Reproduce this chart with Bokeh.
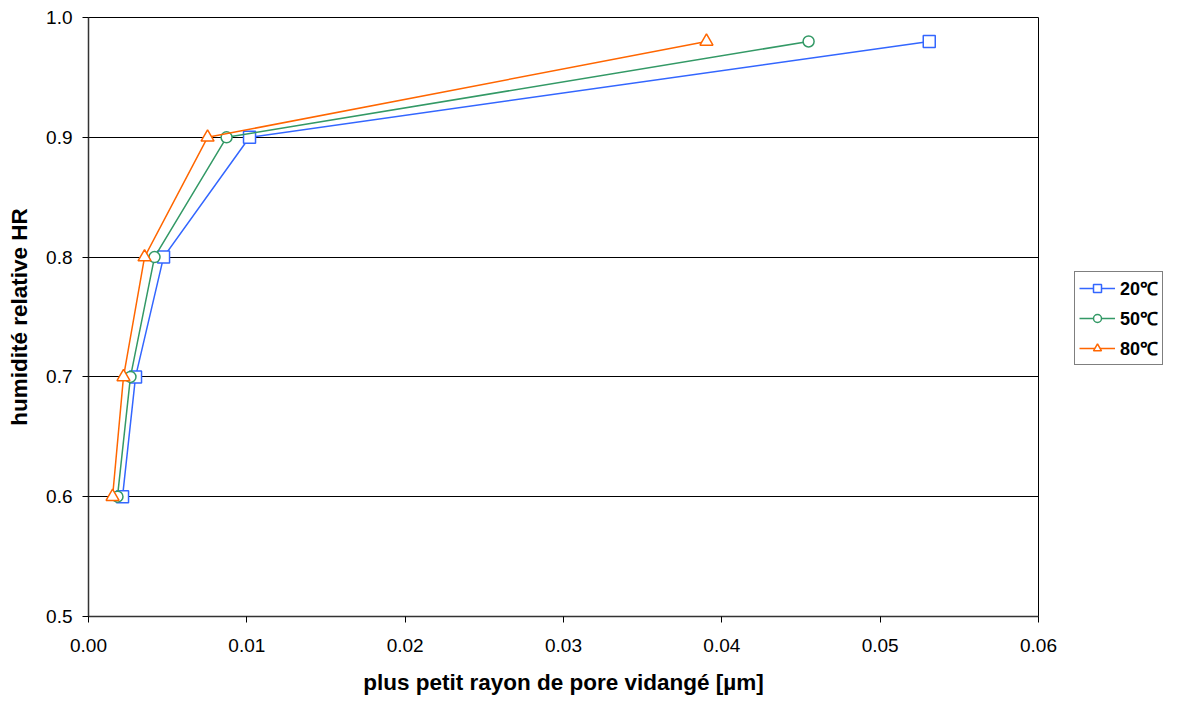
from bokeh.plotting import figure
from bokeh.models import Legend, LegendItem, FixedTicker, Range1d, CustomJSTickFormatter
from bokeh.layouts import row
from bokeh.embed import file_html
from bokeh.resources import INLINE

hr = [0.6, 0.7, 0.8, 0.9, 0.98]
r20 = [0.00215, 0.00297, 0.00474, 0.01017, 0.0531]
r50 = [0.00183, 0.00265, 0.00417, 0.00872, 0.04548]
r80 = [0.00152, 0.00221, 0.00354, 0.00752, 0.03903]
labels = ["20\u2103", "50\u2103", "80\u2103"]
x_ticks = [0.0, 0.01, 0.02, 0.03, 0.04, 0.05, 0.06]
y_ticks = [0.5, 0.6, 0.7, 0.8, 0.9, 1.0]

FONT = "Liberation Sans"
H = 697

p = figure(width=1058, height=H, output_backend="svg", toolbar_location=None,
           x_range=Range1d(0, 0.06), y_range=Range1d(0.5, 1.0),
           min_border_left=88, min_border_right=20, min_border_top=17, min_border_bottom=72)
p.background_fill_color = "white"
p.outline_line_color = "black"
p.outline_line_width = 1

p.xgrid.grid_line_color = None
p.ygrid.grid_line_color = "black"
p.ygrid.grid_line_width = 1

p.xaxis.ticker = FixedTicker(ticks=x_ticks)
p.yaxis.ticker = FixedTicker(ticks=y_ticks)
p.xaxis.formatter = CustomJSTickFormatter(code="return tick.toFixed(2);")
p.yaxis.formatter = CustomJSTickFormatter(code="return tick.toFixed(1);")

for ax in (p.xaxis, p.yaxis):
    ax.axis_line_color = "#333333"
    ax.axis_line_width = 1.5
    ax.major_tick_line_color = "black"
    ax.major_tick_out = 6
    ax.major_tick_in = 0
    ax.minor_tick_line_color = None
    ax.major_label_text_font = FONT
    ax.major_label_text_font_size = "19px"
    ax.major_label_text_color = "black"
    ax.axis_label_text_font = FONT
    ax.axis_label_text_font_size = "22.5px"
    ax.axis_label_text_font_style = "bold"
    ax.axis_label_text_color = "black"

p.xaxis.axis_label = "plus petit rayon de pore vidang\u00e9 [\u00b5m]"
p.yaxis.axis_label = "humidit\u00e9 relative HR"
p.xaxis.major_label_standoff = 16
p.yaxis.major_label_standoff = 10
p.xaxis.axis_label_standoff = 15
p.yaxis.axis_label_standoff = 11

colors = ["#3366FF", "#339966", "#FF6600"]
series = [r20, r50, r80]
markers = ["square", "circle", "triangle"]
sizes = [12, 11, 13]
for s, c, m, sz in zip(series, colors, markers, sizes):
    p.line(s, hr, line_color=c, line_width=1.5)
    p.scatter(s, hr, marker=m, size=sz, line_color=c, line_width=1.5, fill_color="white")

# legend panel at the right (its ranges keep the series' own marks out of view)
lf = figure(width=117, height=H, output_backend="svg", toolbar_location=None,
            x_range=Range1d(10, 11), y_range=Range1d(10, 11),
            x_axis_type=None, y_axis_type=None, min_border=0)
lf.outline_line_color = None
lf.xgrid.grid_line_color = None
lf.ygrid.grid_line_color = None
items = []
for s, c, m, sz, lab in zip(series, colors, markers, sizes, labels):
    l = lf.line(s, hr, line_color=c, line_width=1.5)
    sc = lf.scatter(s, hr, marker=m, size=sz, line_color=c, line_width=1.5, fill_color="white")
    items.append(LegendItem(label=lab, renderers=[l, sc]))

legend = Legend(items=items, location=(16, 251))
legend.label_text_font = FONT
legend.label_text_font_size = "18px"
legend.label_text_font_style = "bold"
legend.label_text_color = "black"
legend.border_line_color = "black"
legend.border_line_width = 1
legend.background_fill_color = "white"
legend.glyph_width = 36
legend.glyph_height = 20
legend.label_height = 20
legend.label_standoff = 5
legend.spacing = 6
legend.padding = 4
legend.margin = 0
lf.add_layout(legend, "center")

layout = row(p, lf, spacing=0)
open("out.html", "w").write(file_html(layout, INLINE))
